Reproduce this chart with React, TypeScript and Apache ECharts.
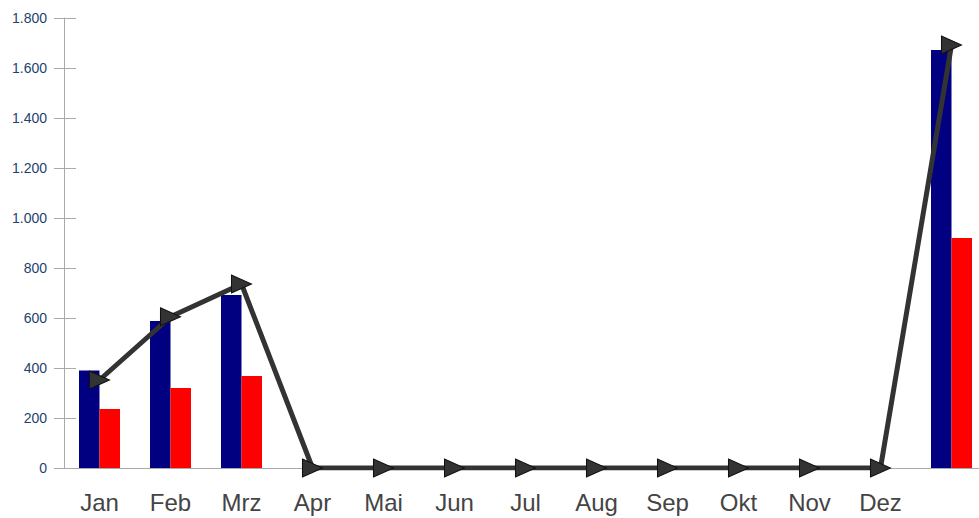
import React, { useEffect, useRef } from "react";
import * as echarts from "echarts";

const categories = ["Jan", "Feb", "Mrz", "Apr", "Mai", "Jun", "Jul", "Aug", "Sep", "Okt", "Nov", "Dez", ""];
const blueValues = [390, 588, 692, 0, 0, 0, 0, 0, 0, 0, 0, 0, 1672];
const redValues = [236, 320, 368, 0, 0, 0, 0, 0, 0, 0, 0, 0, 920];
const lineValues = [352, 605, 736, 0, 0, 0, 0, 0, 0, 0, 0, 0, 1692];
const yTicks = { min: 0, max: 1800, interval: 200 };

const fmt = (v: number) => String(v).replace(/\B(?=(\d{3})+(?!\d))/g, ".");

export default function App() {
  const ref = useRef<HTMLDivElement>(null);
  useEffect(() => {
    const chart = echarts.init(ref.current!, null, { renderer: "svg" });
    chart.setOption({
      animation: false,
      grid: { left: 64, right: 0, top: 18, bottom: 50 },
      xAxis: {
        type: "category",
        data: categories,
        boundaryGap: true,
        axisLine: { lineStyle: { color: "#aaaaaa", width: 1 } },
        axisTick: { alignWithLabel: true, length: 10, lineStyle: { color: "#aaaaaa" } },
        axisLabel: {
          interval: 0,
          color: "#444444",
          fontSize: 24,
          fontFamily: "Liberation Sans, Arial, sans-serif",
          margin: 22,
        },
        splitLine: { show: false },
      },
      yAxis: [
        {
          type: "value",
          min: yTicks.min,
          max: yTicks.max,
          interval: yTicks.interval,
          axisLine: { show: true, lineStyle: { color: "#aaaaaa", width: 1 } },
          axisTick: { show: true, length: 10, lineStyle: { color: "#aaaaaa" } },
          axisLabel: {
            color: "#1f3f6e",
            fontSize: 14,
            fontFamily: "Liberation Sans, Arial, sans-serif",
            margin: 17,
            formatter: (v: number) => fmt(v),
          },
          splitLine: { show: false },
        },
        {
          type: "value",
          position: "left",
          min: yTicks.min,
          max: yTicks.max,
          interval: yTicks.interval,
          axisLine: { show: false },
          axisTick: { show: true, inside: true, length: 12, lineStyle: { color: "#aaaaaa" } },
          axisLabel: { show: false },
          splitLine: { show: false },
        },
      ],
      series: [
        {
          type: "bar",
          data: blueValues,
          barWidth: 20.5,
          barGap: "0%",
          itemStyle: { color: "#000080" },
          z: 2,
        },
        {
          type: "bar",
          data: redValues,
          barWidth: 20.5,
          barGap: "0%",
          itemStyle: { color: "#ff0000" },
          z: 2,
        },
        {
          type: "line",
          data: lineValues,
          lineStyle: { color: "#333333", width: 5 },
          symbol: "triangle",
          symbolSize: [18, 20],
          symbolRotate: -90,
          showAllSymbol: true,
          itemStyle: { color: "#333333", borderColor: "#111111", borderWidth: 1 },
          z: 5,
        },
      ],
    });
    return () => chart.dispose();
  }, []);
  return (
    <div style={{ position: "absolute", left: 0, top: 0, width: 979, height: 518, overflow: "hidden" }}>
      <div ref={ref} style={{ width: 987, height: 518 }} />
    </div>
  );
}
